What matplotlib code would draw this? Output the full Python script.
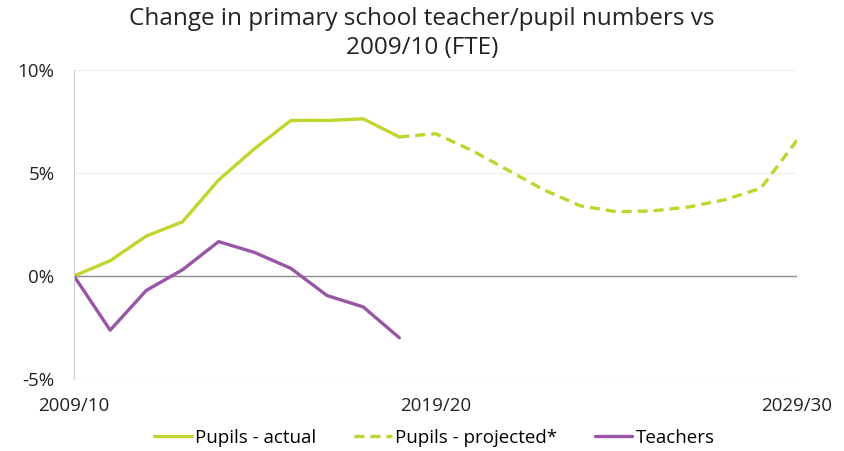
import matplotlib
matplotlib.use("Agg")
import matplotlib.pyplot as plt
from matplotlib.ticker import FuncFormatter

years_idx = list(range(21))
tick_positions = [0, 10, 20]
tick_labels = ["2009/10", "2019/20", "2029/30"]

pupils_actual_x = list(range(0, 10))
pupils_actual = [0.0, 0.74, 1.94, 2.63, 4.66, 6.19, 7.55, 7.55, 7.63, 6.75]

pupils_proj_x = list(range(9, 21))
pupils_proj = [6.75, 6.91, 6.10, 5.14, 4.18, 3.41, 3.12, 3.16, 3.35, 3.70, 4.26, 6.59]

teachers_x = list(range(0, 10))
teachers = [0.0, -2.63, -0.70, 0.30, 1.67, 1.14, 0.37, -0.95, -1.50, -3.00]

green = "#c2d52e"
purple = "#9a56a6"

plt.rcParams['font.family'] = ['Open Sans', 'DejaVu Sans']

fig = plt.figure(figsize=(8.44, 4.51), dpi=100)
ax = fig.add_axes([74/844, 1-379/451, (797-74)/844, (379-70)/451])

ax.plot(pupils_actual_x, pupils_actual, color=green, lw=2.4, label="Pupils - actual", solid_capstyle='round')
ax.plot(pupils_proj_x, pupils_proj, color=green, lw=2.4, ls=(0, (3, 1.8)), label="Pupils - projected*")
ax.plot(teachers_x, teachers, color=purple, lw=2.4, label="Teachers", solid_capstyle='round')

ax.set_xlim(0, 20)
ax.set_ylim(-5, 10)
ax.set_yticks([-5, 0, 5, 10])
ax.yaxis.set_major_formatter(FuncFormatter(lambda v, p: f"{int(v)}%"))
ax.set_xticks(tick_positions)
ax.set_xticklabels(tick_labels)

for v in [5, 10, -5]:
    ax.axhline(v, color="#f0f0f0", lw=1, zorder=0)
ax.axhline(0, color="#8c8c8c", lw=1, zorder=1)

for s in ["top", "right", "bottom"]:
    ax.spines[s].set_visible(False)
ax.spines["left"].set_color("#d0d0d0")
ax.tick_params(axis="both", length=0, labelsize=13.5, colors="#222222")
ax.tick_params(axis="y", pad=14)
ax.tick_params(axis="x", pad=13)

fig.suptitle("Change in primary school teacher/pupil numbers vs\n2009/10 (FTE)",
             x=0.5, y=0.985, fontsize=17.5, color="#222222", linespacing=1.3, va="top")

fig.legend(loc="lower center", bbox_to_anchor=(0.515, -0.028), ncol=3, frameon=False,
           fontsize=13.5, handlelength=2.0, handletextpad=0.2, columnspacing=2.0)

fig.savefig("out.png", dpi=100)
